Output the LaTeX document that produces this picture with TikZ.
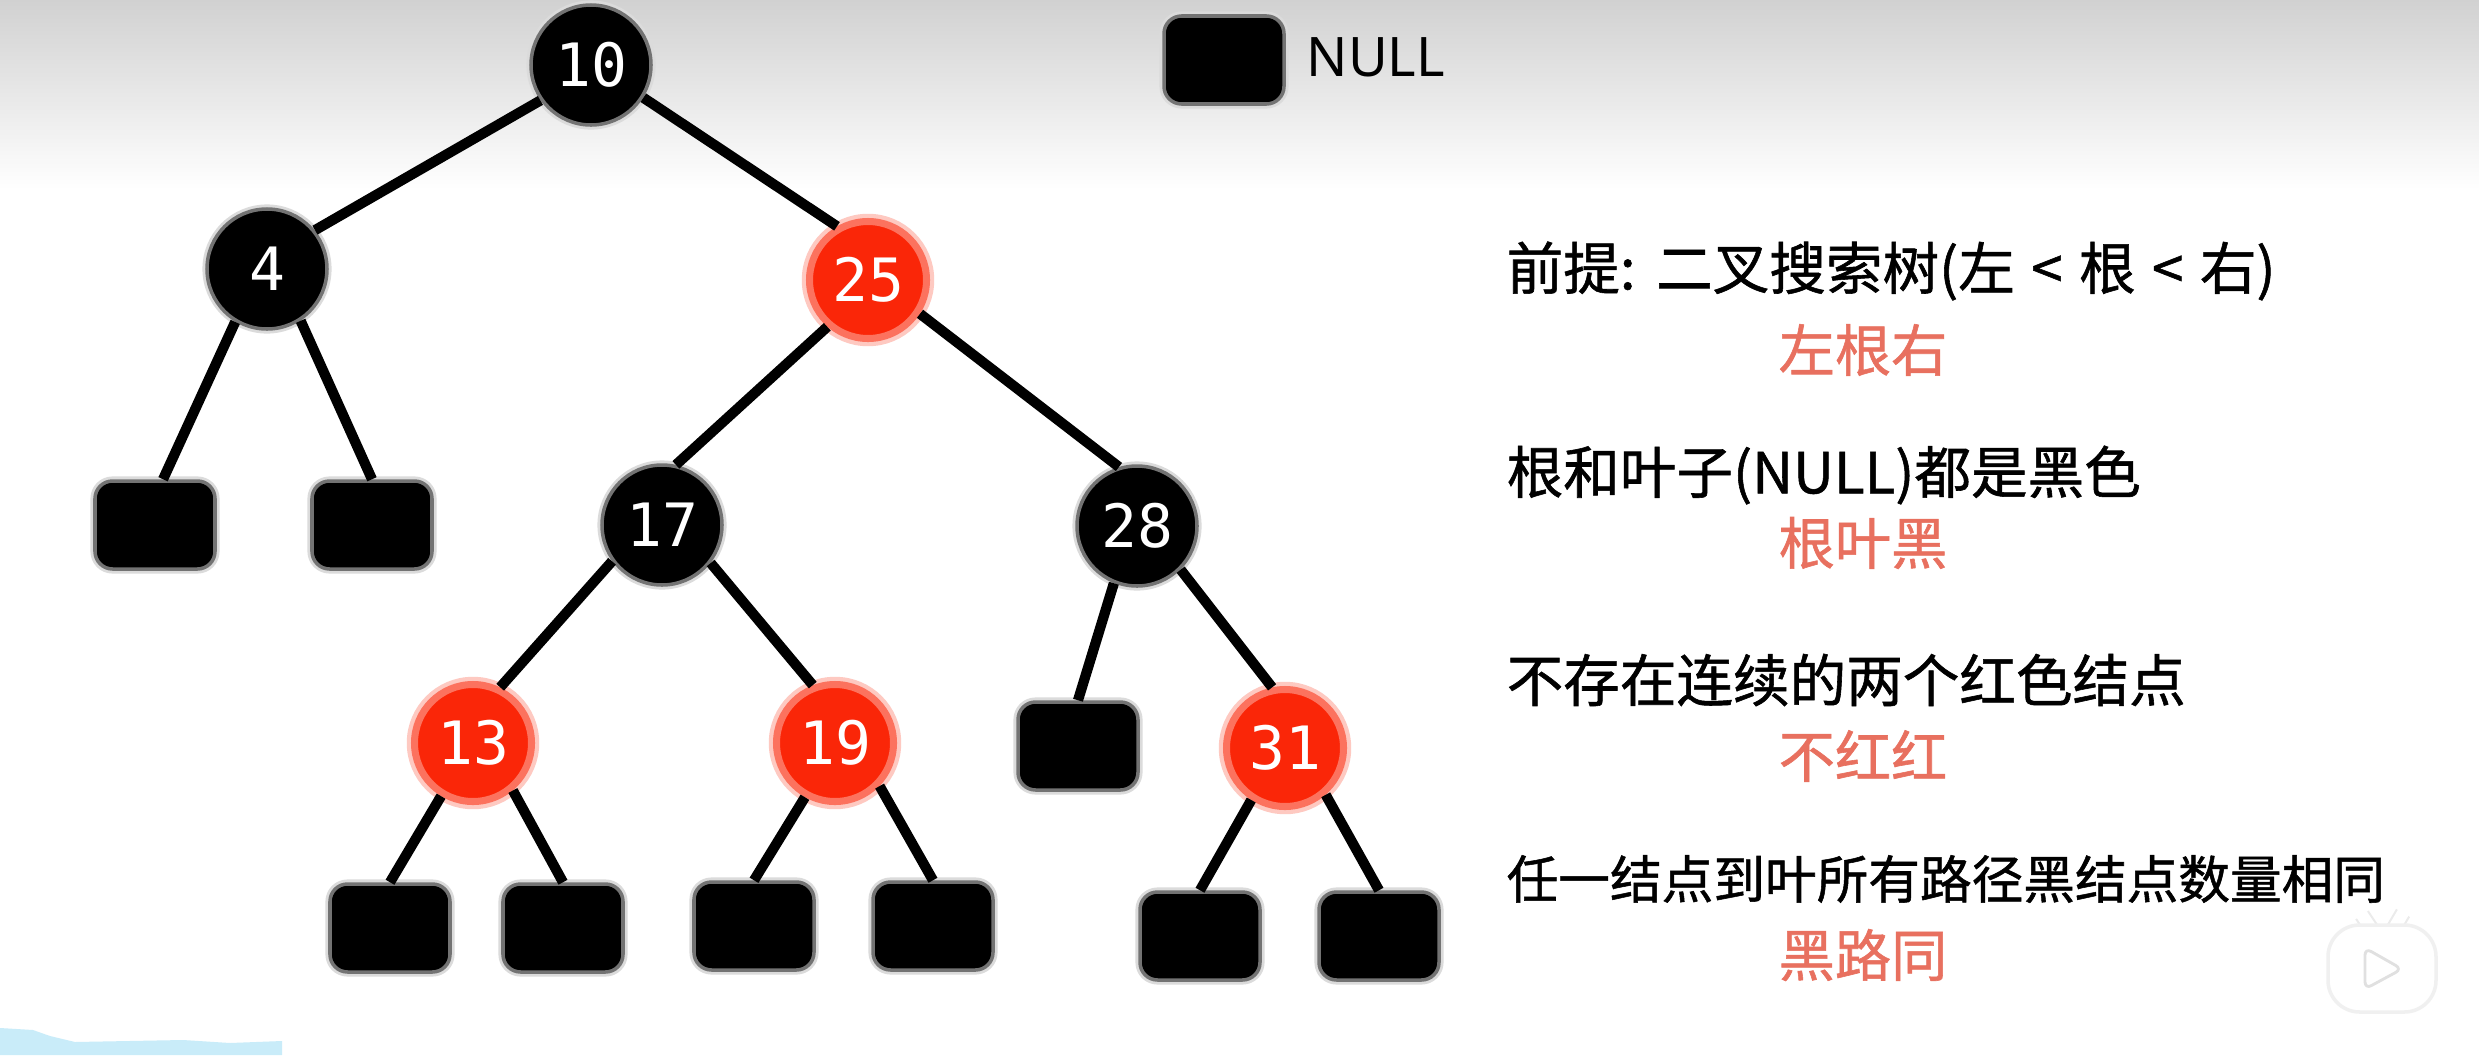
\documentclass[tikz,border=0pt]{standalone}
\usepackage{fontspec}
\usepackage{xcolor}
\setmainfont{Noto Sans}
\newfontfamily\cjk[FakeBold=1]{Noto Sans CJK SC}
\newfontfamily\keyfont{DejaVu Sans Mono}
\usetikzlibrary{positioning, shapes.geometric}
\definecolor{nodered}{HTML}{FA2608}
\definecolor{hintred}{HTML}{E8705F}
\definecolor{patchblue}{HTML}{C9ECF9}
\newcommand{\widerspaces}{\spaceskip 0.29em\relax}

\begin{document}
\begin{tikzpicture}[
  blacknode/.style={circle, fill=black, preaction={draw=black!14, line width=2.6pt},
                    draw=black!55, line width=1pt,
                    minimum size=1.2cm, inner sep=0pt, text=white,
                    font=\keyfont\fontsize{17}{20}\selectfont},
  rednode/.style={circle, fill=nodered, preaction={draw=nodered!25, line width=4.4pt},
                  draw=nodered!65, line width=2pt,
                  minimum size=1.17cm, inner sep=0pt, text=white,
                  font=\keyfont\fontsize{17}{20}\selectfont},
  nullnode/.style={rectangle, rounded corners=5pt, fill=black,
                   preaction={draw=black!14, line width=2.6pt},
                   draw=black!55, line width=1pt,
                   minimum width=1.2cm, minimum height=0.88cm},
  edge_line/.style={line width=2.9pt},
  rule_text/.style={anchor=west, inner sep=0pt, font=\cjk\fontsize{16.1}{18}\selectfont},
  hint_text/.style={inner sep=0pt, text=hintred, font=\cjk\fontsize{16}{18}\selectfont}
]
\useasboundingbox (0,0) rectangle (24.79,10.55);

% Backdrop
\fill[white] (0,0) rectangle (24.79,10.55);
\shade[top color=black!18, bottom color=white] (0,8.65) rectangle (24.79,10.55);
\fill[patchblue] (0,0) -- (0,0.27) -- (0.33,0.25) -- (0.50,0.19) -- (0.75,0.13)
      -- (1.83,0.15) -- (2.30,0.12) -- (2.82,0.14) -- (2.82,0) -- cycle;

% Tree keys
\node[blacknode] (n10) at (5.91,9.90) {10};
\node[blacknode] (n4)  at (2.67,7.86) {4};
\node[rednode]   (n25) at (8.68,7.75) {25};
\node[blacknode] (n17) at (6.62,5.30) {17};
\node[blacknode] (n28) at (11.37,5.29) {28};
\node[rednode]   (n13) at (4.73,3.12) {13};
\node[rednode]   (n19) at (8.35,3.12) {19};
\node[rednode]   (n31) at (12.85,3.07) {31};

% NULL leaves
\node[nullnode] (leafa) at (1.55,5.30) {};
\node[nullnode] (leafb) at (3.72,5.30) {};
\node[nullnode] (leafc) at (10.78,3.09) {};
\node[nullnode] (leafd) at (3.90,1.27) {};
\node[nullnode] (leafe) at (5.63,1.27) {};
\node[nullnode] (leaff) at (7.54,1.29) {};
\node[nullnode] (leafg) at (9.33,1.29) {};
\node[nullnode] (leafh) at (12.00,1.19) {};
\node[nullnode] (leafi) at (13.79,1.19) {};

% Legend
\node[nullnode] (legendbox) at (12.24,9.95) {};
\node[anchor=west, inner sep=0pt, font=\fontsize{15.5}{18}\selectfont] (legendtext)
      at (13.06,9.98) {NULL};

% Edges
\draw[edge_line] (n10.215) -- (n4.39);
\draw[edge_line] (n10.-32) -- (n25.120);
\draw[edge_line] (n4.239) -- (leafa.80);
\draw[edge_line] (n4.-57) -- (leafb.north);
\draw[edge_line] (n25.229) -- (n17.77);
\draw[edge_line] (n25.-33) -- (n28.107);
\draw[edge_line] (n17.216) -- (n13.64);
\draw[edge_line] (n17.-38) -- (n19.111);
\draw[edge_line] (n28.248) -- (leafc.north);
\draw[edge_line] (n28.-45) -- (n31.102);
\draw[edge_line] (n13.239) -- (leafd.north);
\draw[edge_line] (n13.-50) -- (leafe.north);
\draw[edge_line] (n19.241) -- (leaff.north);
\draw[edge_line] (n19.-44) -- (leafg.north);
\draw[edge_line] (n31.237) -- (leafh.north);
\draw[edge_line] (n31.-49) -- (leafi.north);

% Rules
\node[rule_text, font=\cjk\fontsize{16.1}{18}\selectfont\widerspaces] (rulea)
      at (15.06,7.84) {前提: 二叉搜索树(左 < 根 < 右)};
\node[hint_text] (hinta) at (18.63,7.05) {左根右};
\node[rule_text] (ruleb) at (15.06,5.80) {根和叶子(NULL)都是黑色};
\node[hint_text] (hintb) at (18.63,5.12) {根叶黑};
\node[rule_text] (rulec) at (15.06,3.75) {不存在连续的两个红色结点};
\node[hint_text] (hintc) at (18.63,2.99) {不红红};
\node[rule_text, font=\cjk\fontsize{14.7}{18}\selectfont] (ruled)
      at (15.06,1.76) {任一结点到叶所有路径黑结点数量相同};
\node[hint_text] (hintd) at (18.63,1.00) {黑路同};

% Player badge
\draw[white, preaction={draw=black!8, line width=4.6pt}, line width=3.4pt, line cap=round]
      (23.72,1.25) -- (23.62,1.40);
\draw[white, preaction={draw=black!8, line width=4.6pt}, line width=3.4pt, line cap=round]
      (23.93,1.25) -- (24.03,1.42);
\draw[black!6, fill=white, line width=1pt, rounded corners=9pt]
      (23.28,0.43) rectangle (24.36,1.30);
\draw[black!12, fill=white, line width=0.8pt, rounded corners=2pt]
      (23.65,0.66) -- (23.65,1.07) -- (24.02,0.86) -- cycle;
\end{tikzpicture}
\end{document}
